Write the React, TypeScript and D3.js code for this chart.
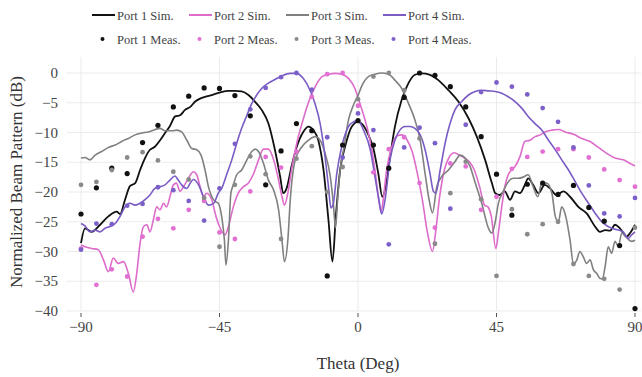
import React from "react";
import * as d3 from "d3";

const W = 642;
const H = 377;

// Simulated patterns: [theta (deg), normalized dB]
const port1Sim: [number, number][] = [[-90,-28.6],[-88.7,-26.1],[-86.5,-26.7],[-83.8,-25.5],[-81.1,-24.1],[-78.4,-23.3],[-77.3,-23.7],[-75.7,-21.3],[-74.1,-19.0],[-72.4,-18.5],[-70.8,-16.3],[-69.2,-14.3],[-67.6,-12.9],[-66,-12.4],[-64.3,-11.3],[-62.7,-10.1],[-61.1,-8.9],[-59.4,-7.3],[-57.8,-7.1],[-56.2,-6.2],[-54.5,-5.7],[-52.9,-4.8],[-51.3,-4.3],[-49.7,-4.0],[-47.5,-3.7],[-45,-3.3],[-42.1,-3.0],[-40,-3.0],[-37.8,-3.1],[-35.6,-3.7],[-33.5,-4.8],[-31.3,-6.2],[-29.1,-8.5],[-27,-12.9],[-25.3,-17.4],[-24.3,-20.2],[-23.2,-19.4],[-21.6,-15.7],[-19.9,-12.4],[-17.8,-9.9],[-16.1,-9.0],[-14.5,-9.6],[-12.9,-11.3],[-11.2,-16.3],[-9.6,-24.7],[-8.3,-31.7],[-7.2,-24.1],[-5.8,-16.3],[-4.2,-12.4],[-2.0,-9.0],[0,-8.2],[1.2,-8.5],[3.4,-10.4],[5,-12.7],[6.6,-16.9],[7.9,-20.8],[9,-19.1],[10.4,-14.1],[12,-9.0],[14.2,-4.5],[16.4,-1.7],[18.5,-0.3],[20.7,-0.06],[23.4,-0.3],[26.1,-1.2],[29.4,-2.9],[32.6,-4.8],[35.9,-7.6],[38.6,-10.7],[41.3,-14.6],[43.5,-18.5],[44.6,-20.2],[46.1,-20.5],[47.7,-19.9],[49.4,-21.3],[51,-19.9],[52.6,-20.2],[54.2,-18.8],[55.3,-17.7],[56.9,-18.8],[58.6,-20.2],[60.7,-18.8],[62.4,-19.4],[64.5,-20.5],[66.7,-19.9],[68.9,-20.8],[71.6,-22.5],[74.3,-23.6],[77,-25.8],[78.6,-26.7],[80.3,-26.4],[81.9,-26.5],[83.5,-25.5],[85.1,-26.1],[87.3,-27.5],[88.4,-26.9],[90,-25.5]];

const port2Sim: [number, number][] = [[-90,-28.9],[-88.7,-29.2],[-86.5,-29.5],[-84.4,-29.7],[-82.7,-31.4],[-81.1,-33.4],[-79.5,-31.1],[-77.9,-32.0],[-76.2,-31.7],[-74.6,-33.7],[-73,-36.8],[-71.9,-33.7],[-70.8,-28.6],[-69.7,-25.8],[-68.6,-25.5],[-67.6,-26.7],[-66.5,-24.7],[-65.4,-22.5],[-64.3,-23.0],[-63.2,-21.9],[-62.2,-22.5],[-61.1,-20.8],[-60,-18.8],[-59,-18.5],[-57.8,-19.9],[-56.7,-19.1],[-55.1,-17.7],[-53.5,-16.6],[-52.4,-17.1],[-51.3,-19.1],[-50.2,-20.8],[-49.2,-20.2],[-47.5,-21.3],[-46.4,-23.6],[-45,-25.8],[-43.2,-27.2],[-42.1,-25.8],[-40.5,-22.5],[-38.9,-20.2],[-37.2,-19.1],[-35.6,-18.5],[-33.9,-16.9],[-32.3,-14.6],[-30.7,-12.8],[-29.1,-12.8],[-27.4,-14.6],[-25.8,-18.0],[-24.7,-20.8],[-23.9,-22.2],[-22.8,-20.2],[-21.6,-16.3],[-19.9,-11.8],[-18.2,-8.5],[-16.6,-5.7],[-14.9,-3.4],[-13.3,-1.7],[-11.7,-0.6],[-9.5,-0.2],[-7.4,-0.06],[-5.2,-0.2],[-3.1,-0.9],[-1,-2.6],[0.6,-5.1],[2.3,-7.9],[3.9,-11.3],[5.5,-16.3],[6.6,-20.8],[7.5,-23.3],[8.2,-21.3],[9.3,-16.3],[11,-12.4],[12.6,-10.6],[14.2,-10.4],[16,-11.3],[17.6,-13.2],[19.3,-16.9],[20.9,-21.3],[22.6,-26.9],[24.2,-30.0],[25.3,-26.4],[26.4,-21.3],[27.7,-17.1],[29.7,-14.1],[31.3,-13.4],[32.9,-13.8],[34.6,-14.3],[36.2,-14.9],[37.8,-16.3],[39.5,-19.1],[41.1,-22.2],[42.2,-22.5],[43.3,-24.1],[44.8,-29.5],[45.6,-26.9],[46.7,-22.5],[47.7,-19.1],[48.8,-17.1],[49.9,-16.3],[51,-15.7],[52.6,-14.1],[54.2,-11.5],[55.9,-11.3],[57.5,-10.7],[59.2,-10.4],[60.8,-9.9],[63,-9.6],[65.1,-9.5],[67.3,-9.9],[70,-10.3],[72.7,-11.0],[75.4,-11.5],[78.1,-12.5],[80.8,-13.5],[83.5,-14.3],[86.2,-14.6],[88.4,-15.2],[90,-15.6]];

const port3Sim: [number, number][] = [[-90,-14.3],[-88.7,-14.2],[-87.1,-14.6],[-85.4,-13.8],[-83.3,-13.2],[-81.1,-12.5],[-78.9,-12.1],[-76.8,-11.5],[-74.6,-11.0],[-72.4,-10.4],[-70.3,-10.1],[-68.1,-9.9],[-65.9,-9.5],[-64.3,-9.3],[-62.7,-9.7],[-60.5,-9.7],[-58.9,-9.6],[-57.3,-9.9],[-55.6,-11.3],[-54,-12.7],[-52.4,-12.9],[-51,-13.8],[-49.7,-16.3],[-48.6,-19.1],[-47.5,-20.8],[-46.4,-21.6],[-45.4,-21.9],[-44.3,-24.1],[-43.4,-28.1],[-42.9,-32.3],[-42.1,-28.1],[-41.3,-20.2],[-40.5,-18.8],[-39.4,-17.1],[-37.8,-16.3],[-36.1,-14.6],[-34.5,-13.2],[-33.4,-12.8],[-32.3,-13.2],[-30.7,-15.2],[-29.1,-18.0],[-27.4,-19.7],[-25.8,-23.0],[-24.7,-28.1],[-23.9,-31.7],[-22.8,-28.1],[-22,-21.3],[-20.4,-14.6],[-18.2,-12.4],[-16.1,-11.3],[-13.9,-10.7],[-12.3,-11.3],[-10.7,-13.5],[-9,-17.4],[-8,-22],[-7.3,-26],[-6.6,-21],[-5.5,-15],[-4.7,-12.9],[-3.1,-7.9],[-1.4,-5.3],[0,-3.8],[1.2,-2.2],[3.4,-0.6],[5.5,-0.2],[7.7,0],[9.9,-0.2],[12,-1.2],[14.2,-2.6],[16.4,-5.1],[18.5,-7.9],[20.2,-11.3],[21.8,-16.9],[23.1,-21.3],[24.2,-23.5],[25.6,-19.1],[27.2,-17.4],[29.4,-16.3],[31.5,-14.9],[33.2,-13.8],[34.8,-14.3],[36.4,-15.7],[38.1,-18.5],[40.2,-21.9],[42.4,-26.1],[43.5,-26.9],[44.6,-25.0],[45.6,-21.9],[47.2,-19.9],[48.8,-18.3],[50.4,-17.7],[52.1,-17.7],[53.7,-17.5],[55.3,-17.1],[56.9,-19.1],[58.4,-20.8],[59.7,-18.5],[61.3,-18.5],[63,-20.2],[64.1,-24.1],[65.1,-25.0],[66.2,-22.5],[67.5,-24.1],[68.9,-28.1],[70,-32.1],[71.1,-31.4],[72.1,-30.0],[73.2,-30.9],[74.3,-32.0],[75.4,-31.4],[76.5,-33.1],[77.6,-33.7],[78.6,-34.5],[79.4,-34.6],[80.3,-32.5],[81.3,-29.2],[82.4,-30.3],[83.5,-28.3],[84.6,-29.2],[85.7,-26.9],[87,-27.5],[88.9,-28.3],[90,-28.1]];

const port4Sim: [number, number][] = [[-90,-25.3],[-88.7,-25.7],[-87.1,-26.7],[-85.4,-26.4],[-83.8,-26.7],[-82.2,-26.1],[-80.6,-25.8],[-78.9,-25.3],[-77.3,-24.1],[-75.7,-22.5],[-74.1,-21.9],[-72.4,-22.2],[-70.8,-21.9],[-69.2,-21.3],[-67.6,-20.5],[-66,-19.4],[-64.3,-19.1],[-62.7,-18.8],[-61.1,-18.0],[-59.5,-17.3],[-58.4,-18.0],[-57.3,-18.8],[-55.6,-19.4],[-54.5,-18.5],[-53.5,-17.9],[-51.8,-18.8],[-50.2,-20.8],[-48.6,-22.2],[-46.9,-21.9],[-45.4,-20.2],[-44.3,-19.4],[-42.7,-17.1],[-41,-14.6],[-39.4,-11.8],[-37.8,-9.3],[-36.1,-7.1],[-34.5,-5.1],[-32.9,-3.7],[-31.3,-2.6],[-29.1,-1.7],[-27,-1.1],[-24.8,-0.5],[-22.1,-0.06],[-20,-0.06],[-17.8,-0.9],[-15.6,-2.9],[-14,-5.1],[-12.3,-8.5],[-10.7,-14.1],[-9.6,-19.1],[-8.8,-22.7],[-8,-21.9],[-6.9,-16.9],[-5.3,-12.4],[-3.1,-9.0],[-1.4,-8.2],[0,-8.0],[1.8,-9.6],[4,-12.9],[5.5,-17.4],[6.8,-21.3],[7.7,-23.7],[8.8,-21.3],[10.4,-14.6],[12,-11.3],[13.6,-9.6],[15.3,-9.0],[16.9,-9.0],[18.5,-9.3],[20.2,-10.4],[21.8,-12.9],[23.4,-16.9],[24.5,-19.9],[25.3,-20.2],[26.7,-16.3],[28.3,-11.8],[29.9,-8.5],[31.5,-6.2],[33.7,-4.8],[35.9,-3.7],[38.1,-3.1],[40.2,-2.9],[42.4,-3.0],[44.6,-3.1],[46.7,-3.4],[48.8,-4.0],[51,-4.8],[53.2,-5.9],[55.3,-7.3],[57.5,-8.5],[59.7,-9.6],[61.9,-11.3],[64.1,-12.9],[66.2,-14.6],[68.4,-16.3],[70.6,-18.3],[72.7,-20.2],[74.9,-21.9],[77.1,-23.6],[78.7,-24.7],[80.3,-25.5],[82.4,-26.1],[84.6,-26.4],[86.2,-26.7],[87.8,-27.8],[88.9,-27.2],[90,-26.7]];

// Measured samples, every 5 degrees
const measTheta = [-90,-85,-80,-75,-70,-65,-60,-55,-50,-45,-40,-35,-30,-25,-20,-15,-10,-5,0,5,10,15,20,25,30,35,40,45,50,55,60,65,70,75,80,85,90];
const port1Meas = [-23.7,-19.3,-16.0,-16.9,-11.7,-8.8,-5.7,-3.9,-2.5,-2.6,-3.8,-7.2,-18.8,-13.1,-8.5,-9.7,-34.1,-12.1,-8.0,-12.1,-16.0,-4.1,0,-0.4,-2.3,-5.7,-10.7,-17.0,-23.9,-18.7,-18.5,-20.4,-18.9,-22.6,-24.9,-29.0,-39.6];
const port2Meas = [-29.5,-35.6,-33.0,-34.2,-27.5,-24.5,-26.1,-23.0,-21.5,-26.8,-27.9,-19.9,-14.1,-15.9,-13.2,-4.0,-0.2,0,-5.5,-16.7,-12.8,-10.8,-18.5,-26.0,-15.2,-15.7,-23.0,-20.8,-16.1,-14.1,-13.2,-12.8,-12.8,-14.2,-16.2,-18.0,-19.1];
const port3Meas = [-18.8,-18.3,-16.3,-14.2,-13.3,-14.7,-16.6,-17.9,-21.0,-29.2,-18.8,-14.0,-17.0,-27.9,-14.4,-12.3,-20.0,-15.8,-4.4,-0.6,0,-2.9,-11.0,-28.7,-20.2,-14.9,-21.2,-34.1,-22.9,-27.1,-25.4,-25.0,-32.1,-34.1,-34.6,-36.4,-26.0];
const port4Meas = [-29.7,-25.3,-25.4,-22.3,-22.0,-19.2,-19.7,-21.5,-24.8,-19.4,-11.9,-6.1,-2.5,-0.7,0,-2.8,-10.8,-14.2,-6.8,-9.6,-28.8,-12.5,-9.2,-11.8,-22.8,-8.7,-3.2,-1.6,-2.3,-3.6,-5.9,-8.2,-12.5,-18.9,-23.6,-24.1,-21.0];

const xTicks = [-90, -45, 0, 45, 90];
const yTicks = [0, -5, -10, -15, -20, -25, -30, -35, -40];
const simNames = ["Port 1 Sim.", "Port 2 Sim.", "Port 3 Sim.", "Port 4 Sim."];
const measNames = ["Port 1 Meas.", "Port 2 Meas.", "Port 3 Meas.", "Port 4 Meas."];

const lineColors = ["#111111", "#dd6ccb", "#808080", "#7a5cc4"];
const dotColors = ["#111111", "#e26fd2", "#8a8a8a", "#7c60c9"];

const fmt = (v: number) => (v < 0 ? "\u2212" + Math.abs(v) : String(v));
const FONT = "Liberation Serif";

export default function App() {
  const x = d3.scaleLinear().domain([-90, 90]).range([81, 635]);
  const y = d3.scaleLinear().domain([-40, 0]).range([311, 73]);
  const line = d3
    .line<[number, number]>()
    .x((d) => x(d[0]))
    .y((d) => y(d[1]))
    .curve(d3.curveMonotoneX);

  const sims = [port1Sim, port2Sim, port3Sim, port4Sim];
  const meas = [port1Meas, port2Meas, port3Meas, port4Meas];
  const legendX = [92, 189, 286, 383];
  const ts = { fontFamily: FONT };

  return (
    <svg
      width={W}
      height={H}
      style={{ position: "absolute", left: 0, top: 0, background: "#fff" }}
    >
      <rect width={W} height={H} fill="#fff" />
      {/* grid */}
      {yTicks.map((t) => (
        <line key={"gy" + t} x1={67} x2={641} y1={y(t)} y2={y(t)} stroke="#ebebeb" strokeWidth={1} />
      ))}
      {xTicks.map((t) => (
        <line key={"gx" + t} x1={x(t)} x2={x(t)} y1={57} y2={311} stroke="#ebebeb" strokeWidth={1} />
      ))}
      {/* x ticks */}
      {xTicks.map((t) => (
        <g key={"tx" + t}>
          <line x1={x(t)} x2={x(t)} y1={313} y2={317} stroke="#555" strokeWidth={1} />
          <text x={x(t)} y={332} fontSize={15} fill="#444" textAnchor="middle" style={ts}>
            {fmt(t)}
          </text>
        </g>
      ))}
      {/* y tick labels */}
      {yTicks.map((t) => (
        <text key={"ty" + t} x={58} y={y(t) + 5} fontSize={15} fill="#444" textAnchor="end" style={ts}>
          {fmt(t)}
        </text>
      ))}
      {/* axis titles */}
      <text x={358} y={369} fontSize={17} fill="#333" textAnchor="middle" style={ts}>
        Theta (Deg)
      </text>
      <text
        transform={`translate(22,182) rotate(-90)`}
        fontSize={17}
        fill="#333"
        textAnchor="middle"
        style={ts}
      >
        Normalized Beam Pattern (dB)
      </text>
      {/* simulated lines */}
      {sims.map((s, i) => (
        <path key={"s" + i} d={line(s) || ""} fill="none" stroke={lineColors[i]} strokeWidth={i === 0 ? 1.8 : 1.6} strokeLinejoin="round" />
      ))}
      {/* measured points */}
      {meas.map((m, i) => (
        <g key={"m" + i}>
          {m.map((v, j) => (
            <circle key={j} cx={x(measTheta[j])} cy={y(v)} r={i === 0 ? 2.6 : 2.4} fill={dotColors[i]} />
          ))}
        </g>
      ))}
      {/* legend */}
      {simNames.map((n, i) => (
        <g key={"l" + i}>
          <line x1={legendX[i]} x2={legendX[i] + 23} y1={15} y2={15} stroke={lineColors[i]} strokeWidth={2} />
          <text x={legendX[i] + 25} y={19.5} fontSize={12.5} fill="#444" style={ts}>
            {n}
          </text>
        </g>
      ))}
      {measNames.map((n, i) => (
        <g key={"lm" + i}>
          <circle cx={legendX[i] + 10.5} cy={39} r={2} fill={dotColors[i]} />
          <text x={legendX[i] + 25} y={43.5} fontSize={12.5} fill="#444" style={ts}>
            {n}
          </text>
        </g>
      ))}
    </svg>
  );
}
